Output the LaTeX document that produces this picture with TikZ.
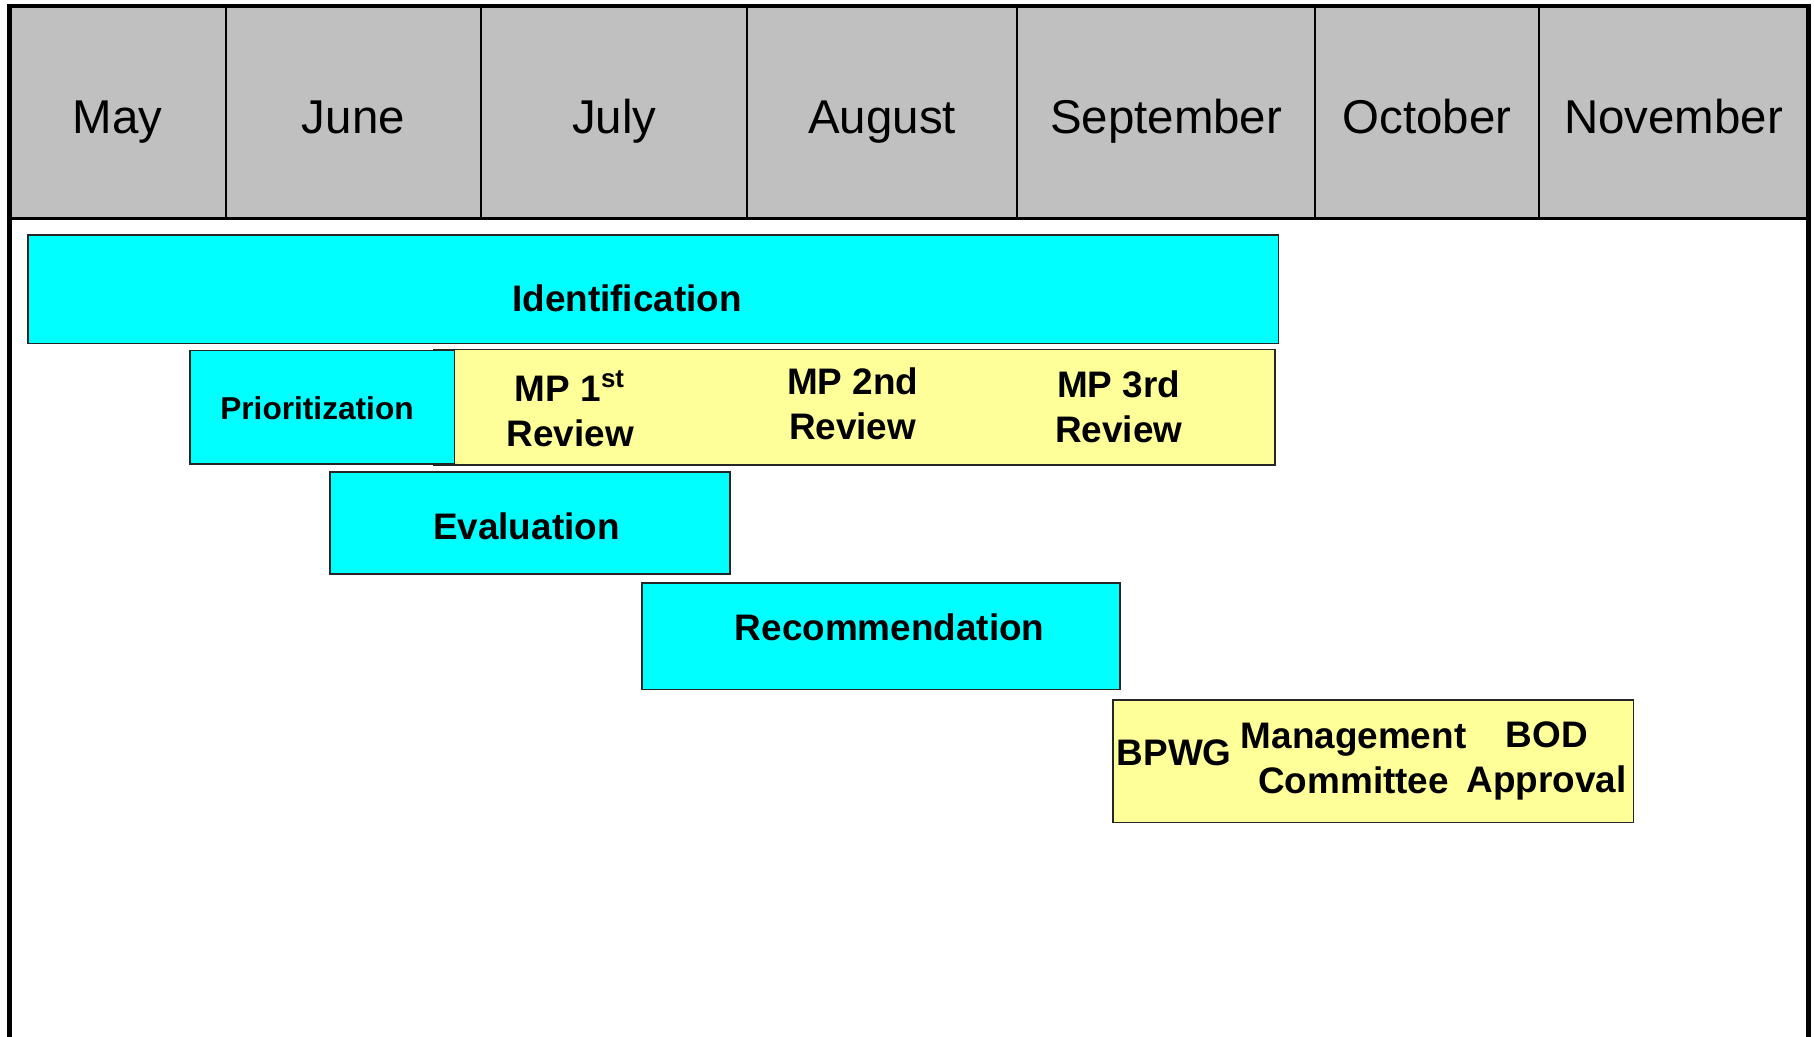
\documentclass[tikz,border=0pt]{standalone}
\usepackage{fontspec}
\setmainfont{Liberation Sans}

\definecolor{monthgray}{HTML}{C0C0C0}
\definecolor{phasecyan}{HTML}{00FFFF}
\definecolor{reviewyellow}{HTML}{FFFF99}

\begin{document}
\begin{tikzpicture}[x=0.11569mm, y=-0.11569mm]

% Define month, box and label styles
\tikzstyle{month} =[font=\fontsize{13.5}{16}\selectfont, anchor=base]
\tikzstyle{phase} =[draw=black!85, line width=0.45pt, fill=phasecyan]
\tikzstyle{review}=[draw=black!85, line width=0.45pt, fill=reviewyellow]
\tikzstyle{lbl}   =[font=\fontsize{10.5}{12.8}\selectfont\bfseries,
                    align=center, inner sep=0pt]

\useasboundingbox (0,0) rectangle (1568,896);

% month header
\foreach \l/\r/\m in {8/195/May, 195/416/June, 416/646/July, 646/879/August,
                      879/1137/September, 1137/1330/October, 1330/1563/November}{
  \draw[fill=monthgray, line width=0.6pt] (\l,5) rectangle (\r,189);
  \node[month] (\m) at ({(\l+\r)/2},115) {\m};
}
\draw[line width=0.9pt] (8,189) -- (1563,189);
\draw[line width=1.3pt] (8,896) -- (8,5) -- (1563,5) -- (1563,896);

% phases
\draw[phase] (24,203) rectangle (1105,297);
\node[lbl] (ident) at (542,258) {Identification};

\draw[review] (375,302) rectangle (1102,402);
\node[lbl] (mp1) at (493,353) {MP 1\textsuperscript{st}\\Review};
\node[lbl] (mp2) at (737,349) {MP 2nd\\Review};
\node[lbl] (mp3) at (967,352) {MP 3rd\\Review};

\draw[phase] (164,303) rectangle (393,401);
\node[lbl, font=\fontsize{9}{11}\selectfont\bfseries] (prio) at (274,353) {Prioritization};

\draw[phase] (285,408) rectangle (631,496);
\node[lbl] (eval) at (455,455) {Evaluation};

\draw[phase] (555,504) rectangle (968,596);
\node[lbl] (recom) at (769,542) {Recommendation};

\draw[review] (962,605) rectangle (1412,711);
\node[lbl] (bpwg) at (1015,651) {BPWG};
\node[lbl] (mgmt) at (1170,656) {Management\\Committee};
\node[lbl] (bod) at (1337,658) {BOD\\Approval};

\end{tikzpicture}
\end{document}
